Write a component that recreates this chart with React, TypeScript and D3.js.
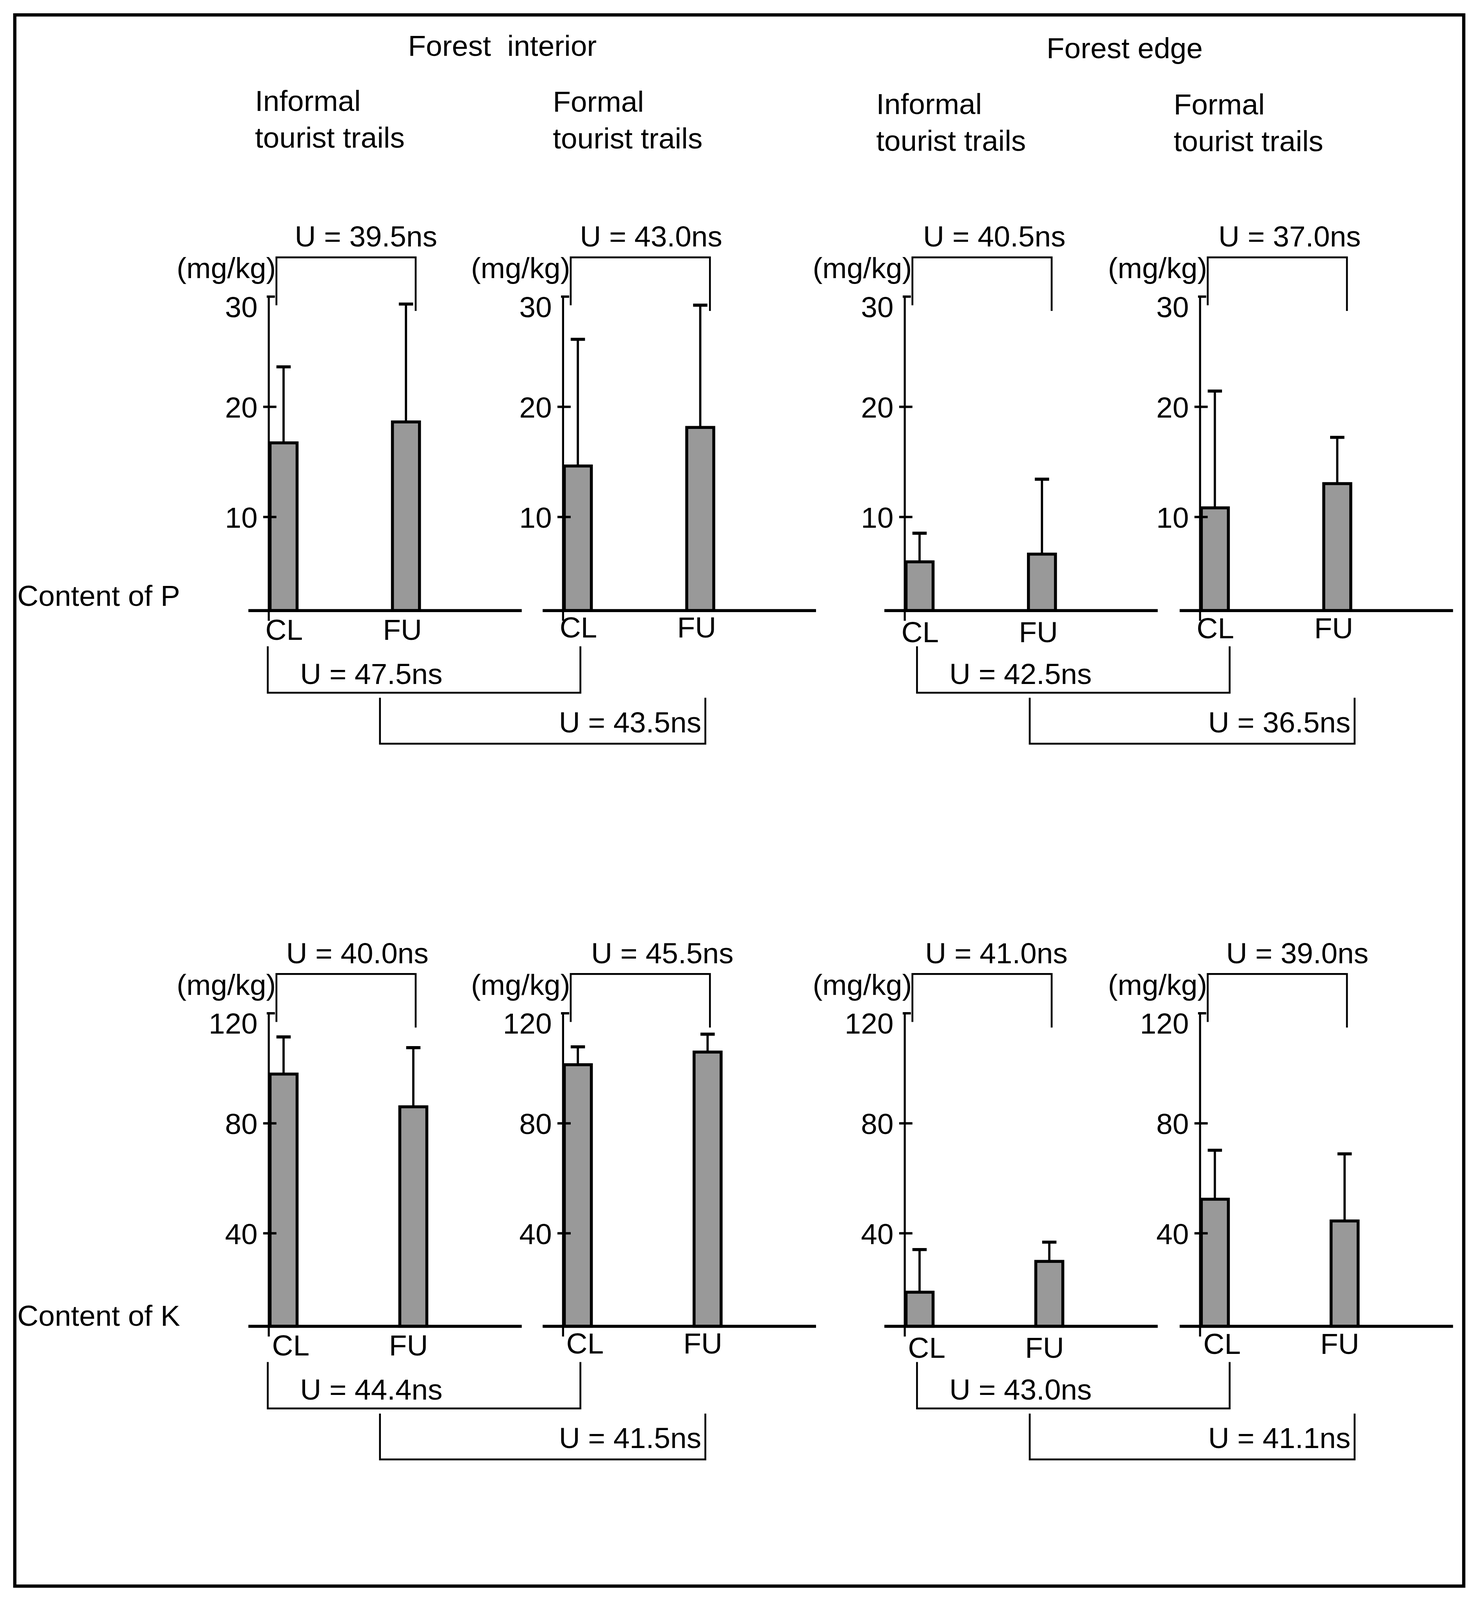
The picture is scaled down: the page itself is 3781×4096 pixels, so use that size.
import React, { useEffect, useRef } from 'react';
import * as d3 from 'd3';

// ---- data ----
const groups = ['CL', 'FU'];
const siteTitles = ['Forest  interior', 'Forest edge'];
const trailTitles = [
  ['Informal', 'tourist trails'],
  ['Formal', 'tourist trails'],
  ['Informal', 'tourist trails'],
  ['Formal', 'tourist trails'],
];
const rowLabels = ['Content of P', 'Content of K'];
const unitLabel = '(mg/kg)';

const pTicks = [10, 20, 30];
const kTicks = [40, 80, 120];

// panels: interior informal, interior formal, edge informal, edge formal; [CL, FU]
const pMean = [[16.8, 18.7], [14.7, 18.2], [6.0, 6.7], [10.9, 13.1]];
const pSD = [[6.9, 10.7], [11.5, 11.1], [2.6, 6.8], [10.6, 4.2]];
const kMean = [[98.2, 86.3], [101.6, 106.2], [18.9, 30.1], [52.7, 44.8]];
const kSD = [[13.5, 21.5], [6.5, 6.5], [15.5, 7.0], [17.8, 24.4]];

// Mann-Whitney U, CL vs FU inside each panel
const pWithinU = ['39.5', '43.0', '40.5', '37.0'];
const kWithinU = ['40.0', '45.5', '41.0', '39.0'];
// informal vs formal, per site [CL, FU]
const pBetweenU = [['47.5', '43.5'], ['42.5', '36.5']];
const kBetweenU = [['44.4', '41.5'], ['43.0', '41.1']];

// ---- layout (reference coords, shrunk 1448x1568) ----
const W = 1448;
const H = 1568;
const axisX = [263.5, 552, 887, 1176.5];
const catDy = [28.5, 26.5, 31, 27];
const rows = [
  {
    base: 598.3, top: 290.5, lo: 1.5, ticks: pTicks, mean: pMean, sd: pSD,
    within: pWithinU, between: pBetweenU, fuCenter: 134.5, labCL: 15, labFU: 131,
    rowLabelDy: -4.5, withinDx: [25.5, 16.5, 18, 18],
  },
  {
    base: 1300, top: 993.1, lo: 6.2, ticks: kTicks, mean: kMean, sd: kSD,
    within: kWithinU, between: kBetweenU, fuCenter: 141.7, labCL: 21.5, labFU: 137,
    rowLabelDy: -0.5, withinDx: [17, 27.5, 20, 25.5],
  },
];
const clX1 = [-1, 12];
const clX2 = [17, 29];
const fuX1 = [109, 122.5];
const fuX2 = [139.5, 151.5];

const App: React.FC = () => {
  const svgRef = useRef<SVGSVGElement>(null);

  useEffect(() => {
    if (!svgRef.current) return;
    const svg = d3.select(svgRef.current);
    svg.selectAll('*').remove();

    const g = svg.append('g')
      .attr('font-family', 'Arial, "Liberation Sans", Helvetica, sans-serif')
      .attr('font-size', 28.7)
      .attr('fill', '#000');

    const text = (x: number, y: number, s: string, anchor = 'start') =>
      g.append('text').attr('x', x).attr('y', y).attr('text-anchor', anchor)
        .style('white-space', 'pre').text(s);
    const line = (x1: number, y1: number, x2: number, y2: number, w: number) =>
      g.append('line').attr('x1', x1).attr('y1', y1).attr('x2', x2).attr('y2', y2)
        .attr('stroke', '#000').attr('stroke-width', w);
    const bracket = (x1: number, y1: number, yH: number, x2: number, y2: number) =>
      g.append('path')
        .attr('d', `M${x1},${y1}L${x1},${yH}L${x2},${yH}L${x2},${y2}`)
        .attr('fill', 'none').attr('stroke', '#000').attr('stroke-width', 1.8);

    // frame
    g.append('rect').attr('x', 14.5).attr('y', 14.3).attr('width', 1420.5).attr('height', 1540.4)
      .attr('fill', 'none').attr('stroke', '#000').attr('stroke-width', 3.2);

    // headers
    text(400, 54.4, siteTitles[0]);
    text(1026, 56.7, siteTitles[1]);
    const hx = [250, 542, 859, 1150.6];
    const hy = [108.6, 109.3, 111.5, 112];
    trailTitles.forEach((t, i) => {
      text(hx[i], hy[i], t[0]);
      text(hx[i], hy[i] + 36, t[1]);
    });

    rows.forEach((row, r) => {
      const yMax = d3.max(row.ticks) as number;
      const y = d3.scaleLinear().domain([row.lo, yMax]).range([row.base, row.top]);

      text(17, row.base + row.rowLabelDy, rowLabels[r]);

      axisX.forEach((ax, p) => {
        const x = d3.scalePoint<string>().domain(groups).range([ax + 14.5, ax + row.fuCenter]);
        const lab = d3.scalePoint<string>().domain(groups).range([ax + row.labCL, ax + row.labFU]);

        // bars + error bars
        groups.forEach((grp, gi) => {
          const m = row.mean[p][gi];
          const s = row.sd[p][gi];
          const cx = x(grp) as number;
          g.append('rect')
            .attr('x', cx - 13.25).attr('y', y(m) + 0.8)
            .attr('width', 26.5).attr('height', row.base - y(m) - 0.8)
            .attr('fill', '#999999').attr('stroke', '#000').attr('stroke-width', 2.9);
          line(cx, y(m), cx, y(m + s), 2.2);
          line(cx - 7, y(m + s) + 0.8, cx + 7, y(m + s) + 0.8, 3);
          text(lab(grp) as number, row.base + catDy[p], grp, 'middle');
        });

        // axes
        line(ax - 20, row.base, ax + 248, row.base, 3);
        line(ax, y(yMax), ax, row.base + 10, 2);
        row.ticks.forEach((t) => {
          const ty = y(t);
          const isTop = t === yMax;
          if (isTop) line(ax - 2, ty, ax + 6, ty, 2.3);
          else line(ax - 5.5, ty, ax + 7.5, ty, 2.3);
          text(ax - 11, ty + (isTop ? 20 : 10.5), String(t), 'end');
        });

        // unit
        text(ax + 7, row.top - 18, unitLabel, 'end');

        // within-panel comparison
        bracket(ax + 7.5, row.top + 8.5, row.top - 38.5, ax + 144, row.top + 14);
        text(ax + row.withinDx[p], row.top - 49, `U = ${row.within[p]}ns`);
      });

      // informal vs formal comparisons
      [0, 1].forEach((s) => {
        const a = axisX[2 * s];
        const b = axisX[2 * s + 1];
        const c1 = a + clX1[s];
        const c2 = b + clX2[s];
        bracket(c1, row.base + 35, row.base + 80.5, c2, row.base + 35);
        text(c1 + 31.7, row.base + 72, `U = ${row.between[s][0]}ns`);
        const f1 = a + fuX1[s];
        const f2 = b + fuX2[s];
        bracket(f1, row.base + 85.5, row.base + 130.5, f2, row.base + 85.5);
        text(f2 - 4, row.base + 119.5, `U = ${row.between[s][1]}ns`, 'end');
      });
    });
  }, []);

  return (
    <svg
      ref={svgRef}
      width={3781}
      height={4096}
      viewBox={`0 0 ${W} ${H}`}
      style={{ position: 'absolute', left: 0, top: 0, background: '#fff' }}
    />
  );
};

export default App;
